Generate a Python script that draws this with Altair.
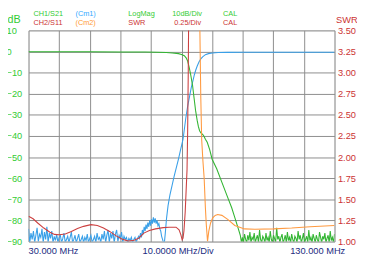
import altair as alt
import pandas as pd

# ---------------- axes ----------------
x_domain = [30, 130]
x_grid = [30, 40, 50, 60, 70, 80, 90, 100, 110, 120, 130]
db_domain = [-90, 10]
db_ticks = [10, 0, -10, -20, -30, -40, -50, -60, -70, -80, -90]
swr_domain = [1.0, 3.5]
swr_ticks = [1.0, 1.25, 1.5, 1.75, 2.0, 2.25, 2.5, 2.75, 3.0, 3.25, 3.5]

# ---------------- CH1 S21 (green, dB) ----------------
green_curve_mhz = [30, 40, 50, 60, 68, 72, 75, 77, 79, 80, 80.9, 81.5, 82.0, 82.5, 83.0,
                   83.6, 84.1, 84.6, 85.1, 85.5, 85.9, 86.4, 86.9, 87.3, 87.8, 88.4, 89.2,
                   90.0, 91.5, 93.2, 94.8, 96.4, 97.5, 98.5, 99.2, 99.6]
green_curve_db = [-0.1, -0.1, -0.15, -0.2, -0.25, -0.35, -0.5, -0.7, -1.0, -1.4, -2.0, -3.0,
                  -4.5, -7.5, -11, -16, -22, -28, -32.5, -35.5, -37.5, -38.7, -39.3, -40,
                  -41.5, -43, -46.5, -51, -55.5, -62, -68, -74, -79, -83.6, -87, -90.5]
green_noise_start = 99.9
green_noise_step = 0.35
green_noise_db = [-88, -90.5, -86.5, -89, -90.5, -87, -89.5, -85.5, -90.5, -88, -89, -86,
                  -90.5, -88.5, -87, -90.5, -84.5, -89, -90.5, -87.5, -88.5, -90.5, -86,
                  -89.5, -88, -90.5, -85, -89, -90.5, -87, -88.5, -90.5, -83.5, -89, -87.5,
                  -90.5, -88, -86.5, -90.5, -89, -87, -90.5, -85.5, -89.5, -88, -90.5, -86.5,
                  -89, -90.5, -87.5, -88.5, -90.5, -85, -89, -87, -90.5, -88.5, -86, -90.5,
                  -89, -87.5, -90.5, -84.5, -89.5, -88, -90.5, -86.5, -88.5, -90.5, -87, -89,
                  -90.5, -85.5, -88, -90.5, -87.5, -89, -86, -90.5, -88.5, -87, -90.5, -85,
                  -89.5, -88, -90.5, -86.5]

# ---------------- Cm1 (blue, dB) ----------------
blue_noise_start = 30.0
blue_noise_step = 0.4
blue_noise_db = [-84, -90.5, -86, -89, -85, -90.5, -87, -83.5, -90, -86.5, -88, -84, -90.5,
                 -85.5, -89, -83, -90.5, -86, -88.5, -85, -90.5, -87.5, -89.5, -86.5, -90.5,
                 -88, -87, -90.5, -88.5, -86, -90.5, -89, -87.5, -90.5, -88, -85.5, -90.5,
                 -89, -87, -90.5, -88.5, -86.5, -90.5, -89, -87.5, -90.5, -88, -89.5, -86.5,
                 -90.5, -88.5, -87, -90.5, -89, -87.5, -90.5, -86, -89, -88, -90.5, -86.5,
                 -89, -85, -90.5, -87, -84.5, -90.5, -86, -88.5, -85, -90.5, -86.5, -84.5,
                 -90, -87, -88.5, -85.5, -90.5, -87.5, -89, -88, -90.5, -88.5, -89.5, -88,
                 -90.5, -89, -88, -90.5, -88.5, -87.5]
blue_bump_start = 66.3
blue_bump_step = 0.3
blue_bump_db = [-88.5, -86, -88, -84.5, -86.5, -83, -85, -82, -84, -81, -83, -80, -82.5,
                -79.5, -81.5, -78.5, -81, -79, -81.5, -80, -82.5, -81.5, -84, -85, -87.5,
                -89, -90.5, -90.5]
blue_curve_mhz = [74.7, 75.1, 75.6, 76.2, 76.9, 77.6, 78.3, 78.9, 79.7, 80.5, 81.0, 81.4,
                  82.0, 82.6, 83.2, 83.7, 84.2, 84.6, 85.1, 85.7, 86.3, 86.9, 87.8, 88.8,
                  90.1, 92.0, 95.0, 100.0, 130.0]
blue_curve_db = [-86, -79, -73, -68, -63.5, -59, -55, -51.5, -46.5, -41.5, -36, -31.5, -26,
                 -21.5, -17, -14, -11, -9, -7, -5, -3.5, -2.5, -1.5, -1.0, -0.7, -0.5, -0.4,
                 -0.35, -0.35]

# ---------------- CH2 S11 (red, SWR) ----------------
red_mhz = [30, 31.5, 33, 35, 37, 38.5, 40, 42, 44, 46, 48, 50.4, 52.5, 54.5, 56.5, 58.5,
           60.5, 62.6, 64.5, 66, 67.7, 69.5, 71.5, 74, 76, 78.2, 79.2, 79.8, 80.2, 80.5,
           80.8, 81.2, 81.5, 81.8, 82.0, 82.2, 82.4]
red_swr = [1.30, 1.27, 1.22, 1.16, 1.11, 1.085, 1.08, 1.09, 1.12, 1.155, 1.18, 1.20, 1.19,
           1.16, 1.12, 1.07, 1.03, 1.005, 1.015, 1.04, 1.10, 1.13, 1.15, 1.165, 1.17, 1.17,
           1.14, 1.08, 1.02, 1.04, 1.13, 1.35, 1.6, 1.85, 2.3, 3.0, 4.0]

# ---------------- Cm2 (orange, SWR) ----------------
orange_mhz = [85.8, 86.0, 86.3, 86.6, 87.0, 87.4, 87.8, 88.1, 88.5, 88.9, 89.5, 90.2, 91.0,
              91.8, 93.2, 95.2, 97.4, 100.6, 104, 110, 116, 122, 130]
orange_swr = [4.0, 3.5, 2.7, 2.2, 1.95, 1.75, 1.4, 1.2, 1.0, 1.12, 1.22, 1.28, 1.31, 1.32,
              1.31, 1.26, 1.19, 1.15, 1.145, 1.15, 1.16, 1.175, 1.19]

# ---------------- texts ----------------
header_row1 = ["CH1/S21", "(Cm1)", "LogMag", "10dB/Div", "CAL"]
header_row1_colors = ["#33cc33", "#33aaff", "#33cc33", "#33cc33", "#33cc33"]
header_row2 = ["CH2/S11", "(Cm2)", "SWR", "0.25/Div", "CAL"]
header_row2_colors = ["#cc3333", "#ff9933", "#cc3333", "#cc3333", "#cc3333"]
header_row1_x = [34, 77, 131, 176, 228]
header_row2_x = [34, 77, 131, 178, 228]
footer_labels = ["30.000 MHz", "10.0000 MHz/Div", "130.000 MHz"]

GREEN = "#33b533"
BLUE = "#3aa0e8"
RED = "#cc4040"
ORANGE = "#ff9a40"
FONT = "Liberation Sans"

# ---------------- build tables ----------------
green_mhz = green_curve_mhz + [green_noise_start + i * green_noise_step for i in range(len(green_noise_db))]
green_db = green_curve_db + green_noise_db
blue_mhz = ([blue_noise_start + i * blue_noise_step for i in range(len(blue_noise_db))]
            + [blue_bump_start + i * blue_bump_step for i in range(len(blue_bump_db))]
            + blue_curve_mhz)
blue_db = blue_noise_db + blue_bump_db + blue_curve_db

df_green = pd.DataFrame({"mhz": green_mhz, "v": green_db})
df_blue = pd.DataFrame({"mhz": blue_mhz, "v": blue_db})
df_red = pd.DataFrame({"mhz": red_mhz, "v": red_swr})
df_orange = pd.DataFrame({"mhz": orange_mhz, "v": orange_swr})

x_enc = alt.X("mhz:Q", scale=alt.Scale(domain=x_domain, nice=False, zero=False),
              axis=alt.Axis(values=x_grid, labels=False, ticks=False, domain=False, grid=True,
                            gridColor="#8c8c8c", gridWidth=1, title=None))
y_db = alt.Y("v:Q", scale=alt.Scale(domain=db_domain, nice=False, zero=False),
             axis=alt.Axis(values=db_ticks, labelColor="#33cc33", labelFontSize=9.5,
                           labelAlign="left", labelBaseline="middle", labelPadding=23,
                           tickSize=0, ticks=False, domain=False, grid=True,
                           gridColor="#8c8c8c", gridWidth=1, labelFlush=False,
                           labelOverlap=False, labelFont=FONT,
                           title="dB", titleAngle=0, titleColor="#33cc33", titleFontSize=11,
                           titleFontWeight="normal", titleFont=FONT, titleX=-22, titleY=-11,
                           titleAlign="left", titleBaseline="middle"))
y_swr = alt.Y("v:Q", scale=alt.Scale(domain=swr_domain, nice=False, zero=False),
              axis=alt.Axis(orient="right", values=swr_ticks, format=".2f",
                            labelColor="#cc3333", labelFontSize=9.5, labelAlign="left",
                            labelBaseline="middle", labelPadding=3, tickSize=0, ticks=False,
                            domain=False, grid=False, labelFlush=False, labelOverlap=False,
                            labelFont=FONT, title="SWR", titleAngle=0, titleColor="#cc3333",
                            titleFontSize=9.5, titleFontWeight="normal", titleFont=FONT,
                            titleX=1, titleY=-11, titleAlign="left", titleBaseline="middle"))

blue_line = alt.Chart(df_blue).mark_line(clip=True, color=BLUE, strokeWidth=1.1).encode(x=x_enc, y=y_db)
green_line = alt.Chart(df_green).mark_line(clip=True, color=GREEN, strokeWidth=1.1).encode(x=x_enc, y=y_db)
db_layer = alt.layer(blue_line, green_line)

red_line = alt.Chart(df_red).mark_line(clip=True, color=RED, strokeWidth=1.1).encode(x=x_enc, y=y_swr)
orange_line = alt.Chart(df_orange).mark_line(clip=True, color=ORANGE, strokeWidth=1.1).encode(x=x_enc, y=y_swr)
swr_layer = alt.layer(red_line, orange_line)

texts = []
for lab, col, px in zip(header_row1, header_row1_colors, header_row1_x):
    texts.append(alt.Chart(pd.DataFrame({"t": [lab]})).mark_text(
        align="left", baseline="middle", fontSize=7.5, font=FONT, color=col
    ).encode(text="t:N", x=alt.value(px - 29), y=alt.value(-17)))
for lab, col, px in zip(header_row2, header_row2_colors, header_row2_x):
    texts.append(alt.Chart(pd.DataFrame({"t": [lab]})).mark_text(
        align="left", baseline="middle", fontSize=7.5, font=FONT, color=col
    ).encode(text="t:N", x=alt.value(px - 29), y=alt.value(-8)))

footer_pos = [(0, "left"), (153, "center"), (324, "right")]
for lab, (px, al) in zip(footer_labels, footer_pos):
    texts.append(alt.Chart(pd.DataFrame({"t": [lab]})).mark_text(
        align=al, baseline="middle", fontSize=9.5, font=FONT, color="#222a80"
    ).encode(text="t:N", x=alt.value(px), y=alt.value(226)))

chart = alt.layer(db_layer, swr_layer, *texts).resolve_scale(y="independent").properties(
    width=313, height=216,
    autosize=alt.AutoSizeParams(type="none"),
    padding={"left": 21, "top": 20, "right": 23, "bottom": 18},
    background="white",
).configure_view(stroke="#9a9ab4", strokeWidth=1).configure(font=FONT)

chart.save("out.html", embed_options={"renderer": "svg", "actions": False})
